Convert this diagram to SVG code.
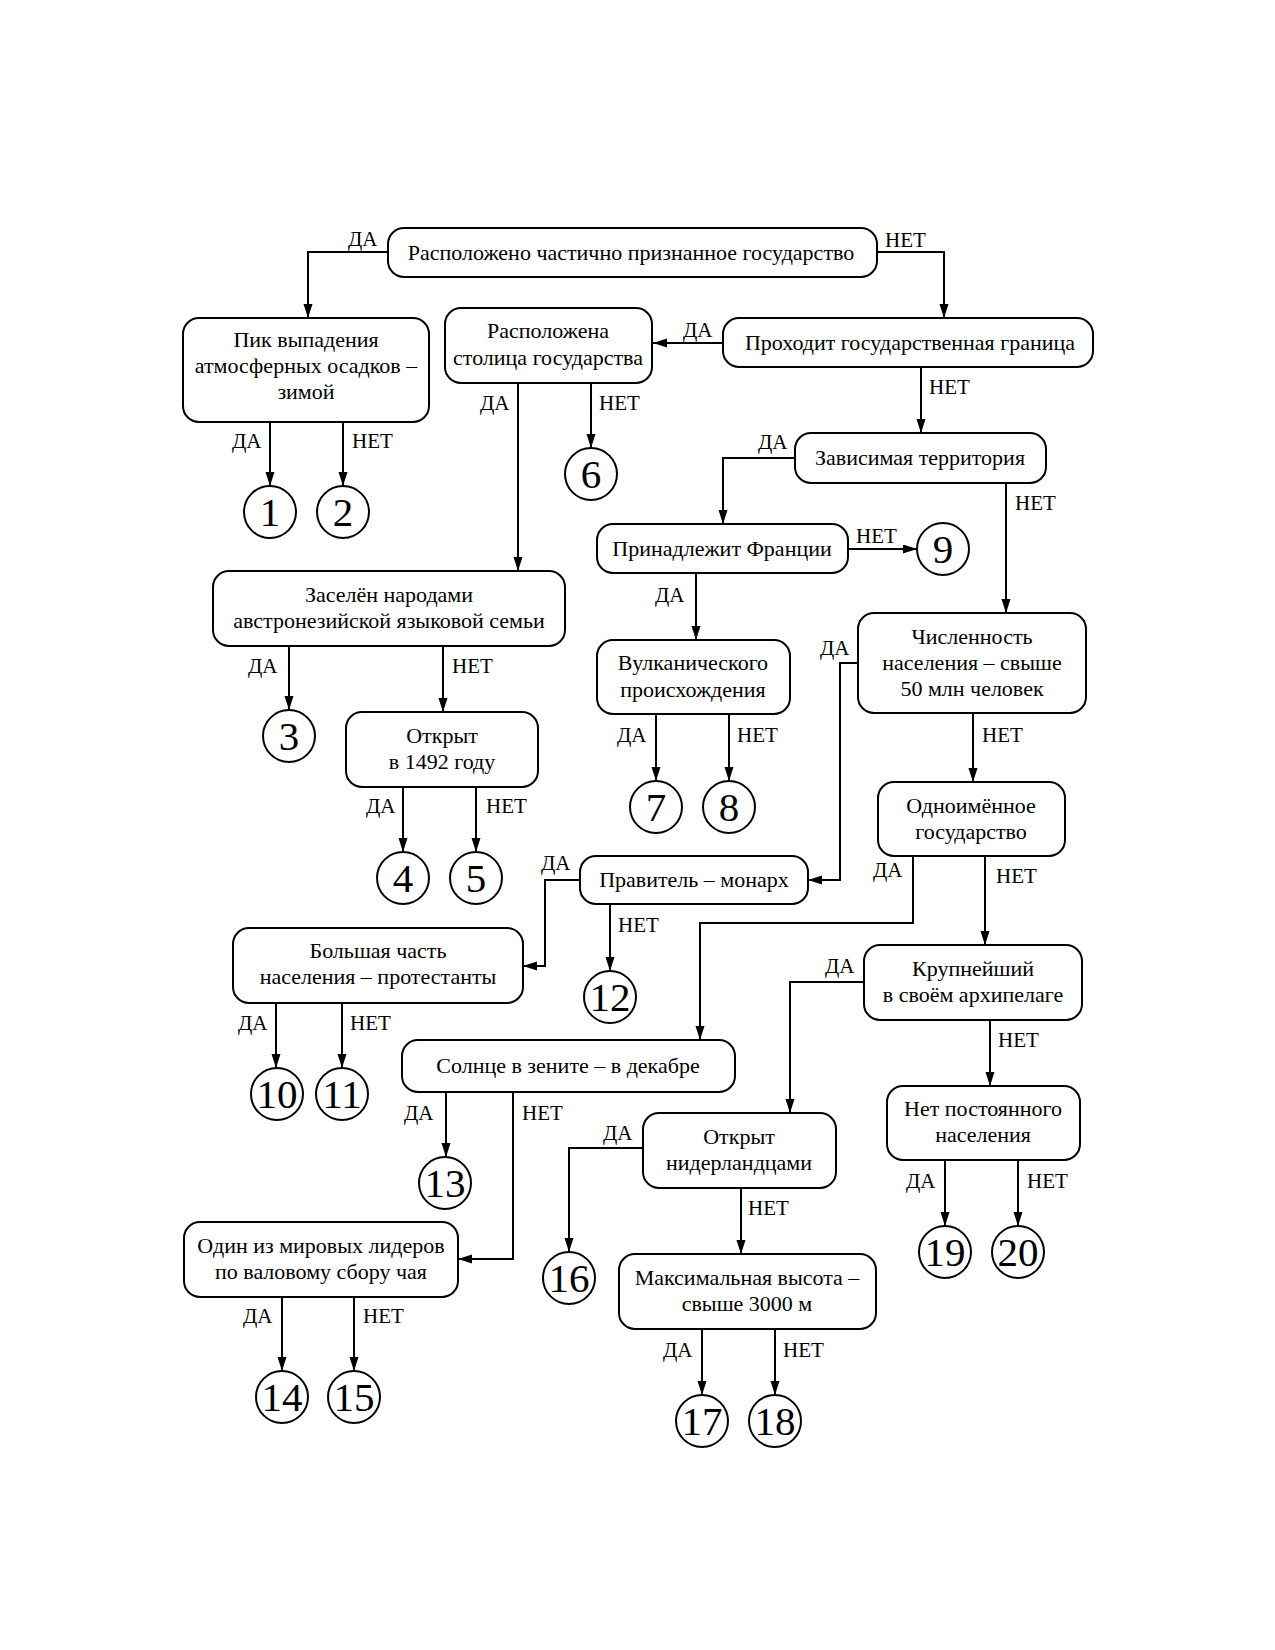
<svg xmlns="http://www.w3.org/2000/svg" width="1275" height="1650" viewBox="0 0 1275 1650">
<style>
.box{fill:#fff;stroke:#000;stroke-width:2}
.c{fill:#fff;stroke:#000;stroke-width:2}
.t{font-family:"Liberation Serif","Times New Roman",serif;font-size:22px;text-anchor:middle;fill:#000}
.n{font-family:"Liberation Serif","Times New Roman",serif;font-size:41px;text-anchor:middle;fill:#000}
.l{font-family:"Liberation Serif","Times New Roman",serif;font-size:21px;fill:#000}
.e{fill:none;stroke:#000;stroke-width:2;marker-end:url(#ah)}
</style>
<defs>
<marker id="ah" markerUnits="userSpaceOnUse" markerWidth="15" markerHeight="10" refX="14" refY="4.5" orient="auto"><path d="M0,0 L14,4.5 L0,9 z" fill="#000"/></marker>
</defs>
<rect width="1275" height="1650" fill="#fff"/>
<g id="connectors">
<path class="e" d="M388,252 H308 V318"/>
<path class="e" d="M877,252 H944 V318"/>
<path class="e" d="M723,343 H653"/>
<path class="e" d="M921,367 V433"/>
<path class="e" d="M795,458 H723 V524"/>
<path class="e" d="M1006,483 V613"/>
<path class="e" d="M848,549 H917"/>
<path class="e" d="M696,573 V640"/>
<path class="e" d="M656,714 V781"/>
<path class="e" d="M729,714 V781"/>
<path class="e" d="M858,663 H840 V880 H808"/>
<path class="e" d="M973,713 V782"/>
<path class="e" d="M518,383 V571"/>
<path class="e" d="M591,383 V448"/>
<path class="e" d="M270,422 V486"/>
<path class="e" d="M343,422 V486"/>
<path class="e" d="M289,646 V710"/>
<path class="e" d="M443,646 V712"/>
<path class="e" d="M403,787 V852"/>
<path class="e" d="M476,787 V852"/>
<path class="e" d="M913,856 V923 H700 V1040"/>
<path class="e" d="M985,856 V945"/>
<path class="e" d="M580,880 H545 V966 H523"/>
<path class="e" d="M610,904 V971"/>
<path class="e" d="M276,1003 V1068"/>
<path class="e" d="M342,1003 V1068"/>
<path class="e" d="M864,982 H790 V1113"/>
<path class="e" d="M990,1020 V1086"/>
<path class="e" d="M446,1092 V1157"/>
<path class="e" d="M513,1092 V1259 H458"/>
<path class="e" d="M945,1160 V1226"/>
<path class="e" d="M1018,1160 V1226"/>
<path class="e" d="M643,1148 H569 V1252"/>
<path class="e" d="M741,1188 V1254"/>
<path class="e" d="M282,1297 V1371"/>
<path class="e" d="M354,1297 V1371"/>
<path class="e" d="M702,1329 V1395"/>
<path class="e" d="M775,1329 V1395"/>
</g>
<g id="labels">
<text class="l" x="348" y="246">ДА</text>
<text class="l" x="885" y="247">НЕТ</text>
<text class="l" x="683" y="337">ДА</text>
<text class="l" x="929" y="394">НЕТ</text>
<text class="l" x="758" y="449">ДА</text>
<text class="l" x="1015" y="510">НЕТ</text>
<text class="l" x="856" y="543">НЕТ</text>
<text class="l" x="655" y="602">ДА</text>
<text class="l" x="617" y="742">ДА</text>
<text class="l" x="737" y="742">НЕТ</text>
<text class="l" x="820" y="655">ДА</text>
<text class="l" x="982" y="742">НЕТ</text>
<text class="l" x="480" y="410">ДА</text>
<text class="l" x="599" y="410">НЕТ</text>
<text class="l" x="232" y="448">ДА</text>
<text class="l" x="352" y="448">НЕТ</text>
<text class="l" x="248" y="673">ДА</text>
<text class="l" x="452" y="673">НЕТ</text>
<text class="l" x="366" y="813">ДА</text>
<text class="l" x="486" y="813">НЕТ</text>
<text class="l" x="873" y="877">ДА</text>
<text class="l" x="996" y="883">НЕТ</text>
<text class="l" x="541" y="870">ДА</text>
<text class="l" x="618" y="932">НЕТ</text>
<text class="l" x="238" y="1030">ДА</text>
<text class="l" x="350" y="1030">НЕТ</text>
<text class="l" x="825" y="973">ДА</text>
<text class="l" x="998" y="1047">НЕТ</text>
<text class="l" x="404" y="1120">ДА</text>
<text class="l" x="522" y="1120">НЕТ</text>
<text class="l" x="906" y="1188">ДА</text>
<text class="l" x="1027" y="1188">НЕТ</text>
<text class="l" x="603" y="1140">ДА</text>
<text class="l" x="748" y="1215">НЕТ</text>
<text class="l" x="243" y="1323">ДА</text>
<text class="l" x="363" y="1323">НЕТ</text>
<text class="l" x="663" y="1357">ДА</text>
<text class="l" x="783" y="1357">НЕТ</text>
</g>
<g id="n0"><rect class="box" x="388" y="228" width="489" height="49" rx="16"/><text class="t" x="631" y="260">Расположено частично признанное государство</text></g>
<g id="n1"><rect class="box" x="183" y="318" width="246" height="104" rx="16"/><text class="t" x="306" y="347">Пик выпадения</text><text class="t" x="306" y="373">атмосферных осадков –</text><text class="t" x="306" y="399">зимой</text></g>
<g id="n2"><rect class="box" x="445" y="308" width="207" height="75" rx="16"/><text class="t" x="548" y="338">Расположена</text><text class="t" x="548" y="365">столица государства</text></g>
<g id="n3"><rect class="box" x="723" y="318" width="370" height="49" rx="16"/><text class="t" x="910" y="350">Проходит государственная граница</text></g>
<g id="n4"><rect class="box" x="795" y="433" width="251" height="50" rx="16"/><text class="t" x="920" y="465">Зависимая территория</text></g>
<g id="n5"><rect class="box" x="597" y="524" width="251" height="49" rx="16"/><text class="t" x="722" y="556">Принадлежит Франции</text></g>
<g id="n6"><rect class="box" x="213" y="571" width="352" height="75" rx="16"/><text class="t" x="389" y="602">Заселён народами</text><text class="t" x="389" y="628">австронезийской языковой семьи</text></g>
<g id="n7"><rect class="box" x="597" y="640" width="193" height="74" rx="16"/><text class="t" x="693" y="670">Вулканического</text><text class="t" x="693" y="697">происхождения</text></g>
<g id="n8"><rect class="box" x="858" y="613" width="228" height="100" rx="16"/><text class="t" x="972" y="644">Численность</text><text class="t" x="972" y="670">населения – свыше</text><text class="t" x="972" y="696">50 млн человек</text></g>
<g id="n9"><rect class="box" x="346" y="712" width="192" height="75" rx="16"/><text class="t" x="442" y="743">Открыт</text><text class="t" x="442" y="769">в 1492 году</text></g>
<g id="n10"><rect class="box" x="878" y="782" width="187" height="74" rx="16"/><text class="t" x="971" y="813">Одноимённое</text><text class="t" x="971" y="839">государство</text></g>
<g id="n11"><rect class="box" x="580" y="856" width="228" height="48" rx="16"/><text class="t" x="694" y="887">Правитель – монарх</text></g>
<g id="n12"><rect class="box" x="233" y="928" width="290" height="75" rx="16"/><text class="t" x="378" y="958">Большая часть</text><text class="t" x="378" y="984">населения – протестанты</text></g>
<g id="n13"><rect class="box" x="864" y="945" width="218" height="75" rx="16"/><text class="t" x="973" y="976">Крупнейший</text><text class="t" x="973" y="1002">в своём архипелаге</text></g>
<g id="n14"><rect class="box" x="402" y="1040" width="333" height="52" rx="16"/><text class="t" x="568" y="1073">Солнце в зените – в декабре</text></g>
<g id="n15"><rect class="box" x="887" y="1086" width="193" height="74" rx="16"/><text class="t" x="983" y="1116">Нет постоянного</text><text class="t" x="983" y="1142">населения</text></g>
<g id="n16"><rect class="box" x="643" y="1113" width="193" height="75" rx="16"/><text class="t" x="739" y="1144">Открыт</text><text class="t" x="739" y="1170">нидерландцами</text></g>
<g id="n17"><rect class="box" x="184" y="1222" width="274" height="75" rx="16"/><text class="t" x="321" y="1253">Один из мировых лидеров</text><text class="t" x="321" y="1279">по валовому сбору чая</text></g>
<g id="n18"><rect class="box" x="619" y="1254" width="257" height="75" rx="16"/><text class="t" x="747" y="1285">Максимальная высота –</text><text class="t" x="747" y="1311">свыше 3000 м</text></g>
<g id="c1"><circle class="c" cx="270" cy="512" r="26"/><text class="n" x="270" y="526">1</text></g>
<g id="c2"><circle class="c" cx="343" cy="512" r="26"/><text class="n" x="343" y="526">2</text></g>
<g id="c3"><circle class="c" cx="289" cy="736" r="26"/><text class="n" x="289" y="750">3</text></g>
<g id="c4"><circle class="c" cx="403" cy="878" r="26"/><text class="n" x="403" y="892">4</text></g>
<g id="c5"><circle class="c" cx="476" cy="878" r="26"/><text class="n" x="476" y="892">5</text></g>
<g id="c6"><circle class="c" cx="591" cy="474" r="26"/><text class="n" x="591" y="488">6</text></g>
<g id="c7"><circle class="c" cx="656" cy="807" r="26"/><text class="n" x="656" y="821">7</text></g>
<g id="c8"><circle class="c" cx="729" cy="807" r="26"/><text class="n" x="729" y="821">8</text></g>
<g id="c9"><circle class="c" cx="943" cy="549" r="26"/><text class="n" x="943" y="563">9</text></g>
<g id="c10"><circle class="c" cx="277" cy="1094" r="26"/><text class="n" x="277" y="1108">10</text></g>
<g id="c11"><circle class="c" cx="342" cy="1094" r="26"/><text class="n" x="342" y="1108">11</text></g>
<g id="c12"><circle class="c" cx="610" cy="997" r="26"/><text class="n" x="610" y="1011">12</text></g>
<g id="c13"><circle class="c" cx="445" cy="1183" r="26"/><text class="n" x="445" y="1197">13</text></g>
<g id="c14"><circle class="c" cx="282" cy="1397" r="26"/><text class="n" x="282" y="1411">14</text></g>
<g id="c15"><circle class="c" cx="354" cy="1397" r="26"/><text class="n" x="354" y="1411">15</text></g>
<g id="c16"><circle class="c" cx="569" cy="1278" r="26"/><text class="n" x="569" y="1292">16</text></g>
<g id="c17"><circle class="c" cx="702" cy="1421" r="26"/><text class="n" x="702" y="1435">17</text></g>
<g id="c18"><circle class="c" cx="775" cy="1421" r="26"/><text class="n" x="775" y="1435">18</text></g>
<g id="c19"><circle class="c" cx="945" cy="1252" r="26"/><text class="n" x="945" y="1266">19</text></g>
<g id="c20"><circle class="c" cx="1018" cy="1252" r="26"/><text class="n" x="1018" y="1266">20</text></g>
</svg>
